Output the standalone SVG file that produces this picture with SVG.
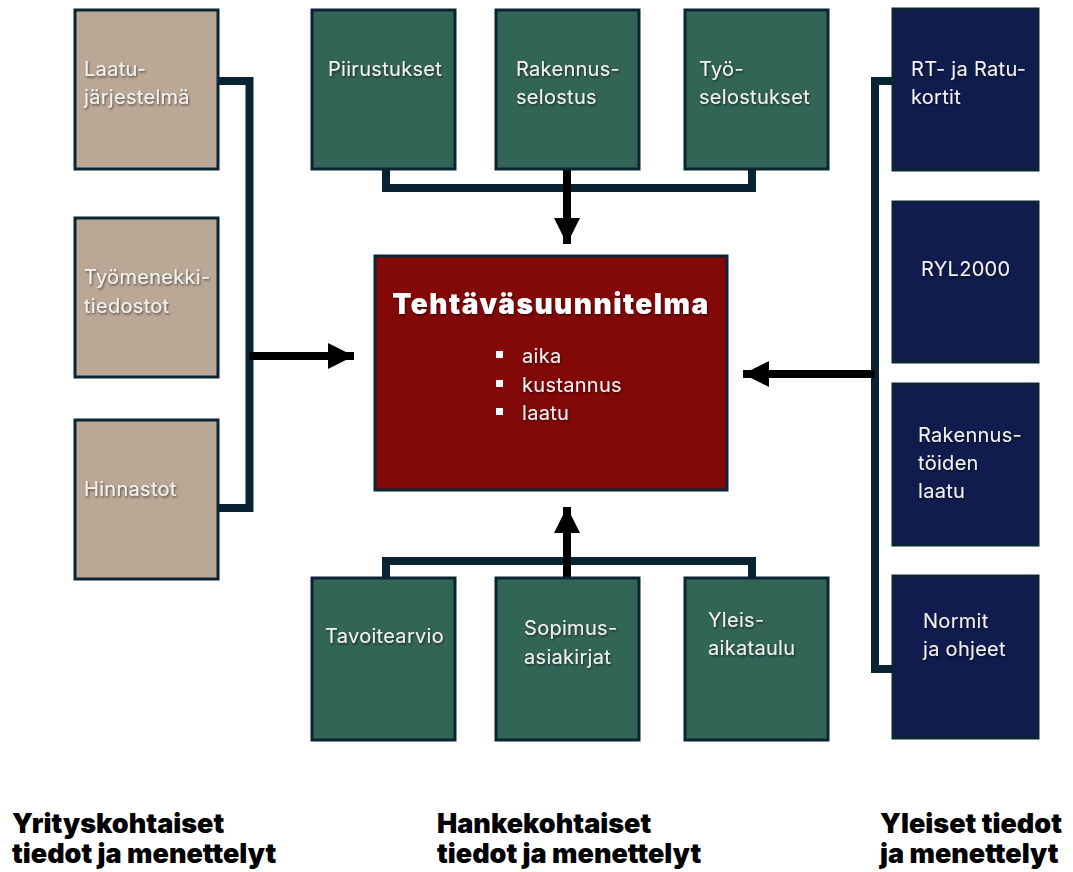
<svg xmlns="http://www.w3.org/2000/svg" width="1073" height="872" viewBox="0 0 1073 872">
  <defs>
    <filter id="txtShadow" x="-10%" y="-30%" width="130%" height="160%">
      <feDropShadow dx="1" dy="1.5" stdDeviation="1" flood-color="#000" flood-opacity="0.55"/>
    </filter>
    <marker id="arrowHead" viewBox="0 0 10 10" refX="10" refY="5" markerWidth="3.3" markerHeight="3.3" markerUnits="strokeWidth" orient="auto">
      <path d="M0,0 L10,5 L0,10 z" fill="#000"/>
    </marker>
  </defs>
  <style>
    .box { stroke: #0b2535; stroke-width: 3; }
    .tan { fill: #bba795; }
    .green { fill: #336557; }
    .navy { fill: #101c4e; }
    .core { fill: #830808; }
    .lbl { font-family: Inter, "Liberation Sans", sans-serif; font-size: 20px; letter-spacing: 0.3px; fill: #f2f2f2; filter: url(#txtShadow); }
    .title { font-family: Inter, "Liberation Sans", sans-serif; font-weight: 900; font-size: 28px; letter-spacing: 1.5px; fill: #ffffff; filter: url(#txtShadow); }
    .item { font-family: Inter, "Liberation Sans", sans-serif; font-size: 20px; letter-spacing: 0.3px; fill: #f2f2f2; filter: url(#txtShadow); }
    .bullet { fill: #ffffff; }
    .cap { font-family: Inter, "Liberation Sans", sans-serif; font-weight: 900; font-size: 27px; fill: #000; }
    .link { fill: none; stroke: #0a2333; stroke-width: 8; }
    .arrow { fill: none; stroke: #000; stroke-width: 8; }
  </style>

  <rect width="1073" height="872" fill="#ffffff"/>

  <!-- connectors -->
  <g id="connectors">
    <!-- company-specific bracket -->
    <path class="link" d="M218,81 H249.5 V508 H218"/>
    <path class="arrow" d="M249.5,356 H354" marker-end="url(#arrowHead)"/>
    <!-- project docs, top -->
    <path class="link" d="M386,169 V188 H752 V169"/>
    <path class="arrow" d="M567,169 V244" marker-end="url(#arrowHead)"/>
    <!-- project docs, bottom -->
    <path class="link" d="M386,578 V561 H752 V578"/>
    <path class="arrow" d="M567,578 V507" marker-end="url(#arrowHead)"/>
    <!-- general bracket -->
    <path class="link" d="M893,81 H875 V669 H893"/>
    <path class="arrow" d="M875,374 H743" marker-end="url(#arrowHead)"/>
  </g>

  <!-- central node -->
  <g id="tehtavasuunnitelma">
    <rect class="box core" x="375" y="256" width="352" height="234"/>
    <text class="title" x="551" y="314" text-anchor="middle">Tehtäväsuunnitelma</text>
    <rect class="bullet" x="496" y="351" width="7" height="7"/>
    <rect class="bullet" x="496" y="380" width="7" height="7"/>
    <rect class="bullet" x="496" y="408" width="7" height="7"/>
    <text class="item" x="522" y="363">aika</text>
    <text class="item" x="522" y="392">kustannus</text>
    <text class="item" x="522" y="420">laatu</text>
  </g>

  <!-- company-specific -->
  <g id="laatujarjestelma">
    <rect class="box tan" x="75" y="10" width="143" height="159"/>
    <text class="lbl" x="84" y="76">Laatu-</text>
    <text class="lbl" x="84" y="104">järjestelmä</text>
  </g>
  <g id="tyomenekkitiedostot">
    <rect class="box tan" x="75" y="218" width="143" height="159"/>
    <text class="lbl" x="84" y="284">Työmenekki-</text>
    <text class="lbl" x="84" y="313">tiedostot</text>
  </g>
  <g id="hinnastot">
    <rect class="box tan" x="75" y="420" width="143" height="159"/>
    <text class="lbl" x="84" y="496">Hinnastot</text>
  </g>

  <!-- project-specific, top -->
  <g id="piirustukset">
    <rect class="box green" x="312" y="10" width="143" height="159"/>
    <text class="lbl" x="328" y="76">Piirustukset</text>
  </g>
  <g id="rakennusselostus">
    <rect class="box green" x="496" y="10" width="143" height="159"/>
    <text class="lbl" x="516" y="76">Rakennus-</text>
    <text class="lbl" x="516" y="104">selostus</text>
  </g>
  <g id="tyoselostukset">
    <rect class="box green" x="685" y="10" width="143" height="159"/>
    <text class="lbl" x="699" y="76">Työ-</text>
    <text class="lbl" x="699" y="104">selostukset</text>
  </g>

  <!-- project-specific, bottom -->
  <g id="tavoitearvio">
    <rect class="box green" x="312" y="578" width="143" height="162"/>
    <text class="lbl" x="325" y="643">Tavoitearvio</text>
  </g>
  <g id="sopimusasiakirjat">
    <rect class="box green" x="496" y="578" width="143" height="162"/>
    <text class="lbl" x="524" y="635">Sopimus-</text>
    <text class="lbl" x="524" y="664">asiakirjat</text>
  </g>
  <g id="yleisaikataulu">
    <rect class="box green" x="685" y="578" width="143" height="162"/>
    <text class="lbl" x="708" y="627">Yleis-</text>
    <text class="lbl" x="708" y="655">aikataulu</text>
  </g>

  <!-- general -->
  <g id="rt-ratukortit">
    <rect class="box navy" x="893" y="9" width="145" height="161"/>
    <text class="lbl" x="911" y="76">RT- ja Ratu-</text>
    <text class="lbl" x="911" y="104">kortit</text>
  </g>
  <g id="ryl2000">
    <rect class="box navy" x="893" y="202" width="145" height="160"/>
    <text class="lbl" x="921" y="276">RYL2000</text>
  </g>
  <g id="rakennustoiden-laatu">
    <rect class="box navy" x="893" y="384" width="145" height="161"/>
    <text class="lbl" x="918" y="442">Rakennus-</text>
    <text class="lbl" x="918" y="470">töiden</text>
    <text class="lbl" x="918" y="498">laatu</text>
  </g>
  <g id="normit-ohjeet">
    <rect class="box navy" x="893" y="576" width="145" height="162"/>
    <text class="lbl" x="923" y="628">Normit</text>
    <text class="lbl" x="923" y="656">ja ohjeet</text>
  </g>

  <!-- column captions -->
  <g id="captions">
    <text class="cap" x="12" y="833">Yrityskohtaiset</text>
    <text class="cap" x="12" y="863">tiedot ja menettelyt</text>
    <text class="cap" x="437" y="833">Hankekohtaiset</text>
    <text class="cap" x="437" y="863">tiedot ja menettelyt</text>
    <text class="cap" x="880" y="833">Yleiset tiedot</text>
    <text class="cap" x="880" y="863">ja menettelyt</text>
  </g>
</svg>
